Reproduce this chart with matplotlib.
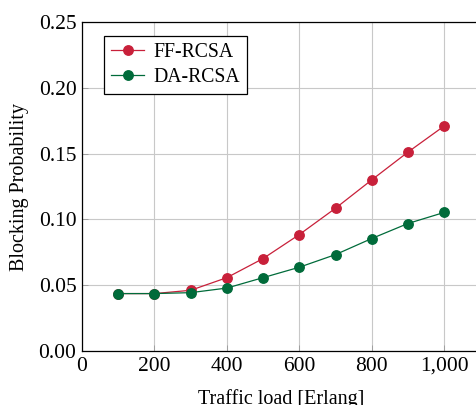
import matplotlib
matplotlib.use("Agg")
import matplotlib.pyplot as plt
from matplotlib.ticker import FuncFormatter

plt.rcParams['font.family'] = ['Liberation Serif', 'DejaVu Serif']
plt.rcParams['mathtext.fontset'] = 'stix'

loads = [100, 200, 300, 400, 500, 600, 700, 800, 900, 1000]
ff_rcsa = [0.0437, 0.0437, 0.0462, 0.0558, 0.0703, 0.0885, 0.1085, 0.1300, 0.1511, 0.1709]
da_rcsa = [0.0437, 0.0437, 0.0444, 0.0479, 0.0558, 0.0637, 0.0733, 0.0855, 0.0969, 0.1053]
xticks = [0, 200, 400, 600, 800, 1000]
yticks = [0.00, 0.05, 0.10, 0.15, 0.20, 0.25]

fig = plt.figure(figsize=(4.77, 4.05), dpi=100)
ax = fig.add_axes([0.172, 0.133, 0.835, 0.813])

red = '#c8203a'
green = '#006b3a'
ax.plot(loads, ff_rcsa, color=red, marker='o', markersize=6.8, linewidth=0.9, label='FF-RCSA')
ax.plot(loads, da_rcsa, color=green, marker='o', markersize=6.8, linewidth=0.9, label='DA-RCSA')

ax.set_xlim(0, 1100)
ax.set_ylim(0, 0.25)
ax.set_xticks(xticks)
ax.set_yticks(yticks)
ax.xaxis.set_major_formatter(FuncFormatter(lambda v, p: f"{int(v):,}"))
ax.yaxis.set_major_formatter(FuncFormatter(lambda v, p: f"{v:.2f}"))
ax.grid(True, color='#c8c8c8', linewidth=0.8)
ax.set_axisbelow(True)
ax.tick_params(direction='in', length=4, labelsize=15.5, color='#999999', width=0.6, pad=4)
for s in ax.spines.values():
    s.set_linewidth(0.9)
ax.set_xlabel('Traffic load [Erlang]', fontsize=14.5, labelpad=10)
ax.set_ylabel('Blocking Probability', fontsize=14.5, labelpad=7)

leg = ax.legend(loc='upper left', bbox_to_anchor=(0.055, 0.957), fontsize=14.2,
                frameon=True, fancybox=False, edgecolor='black', framealpha=1,
                borderpad=0.35, labelspacing=0.3, handlelength=1.7, handletextpad=0.45,
                borderaxespad=0)
leg.get_frame().set_linewidth(0.9)

fig.savefig('out.png', dpi=100)
